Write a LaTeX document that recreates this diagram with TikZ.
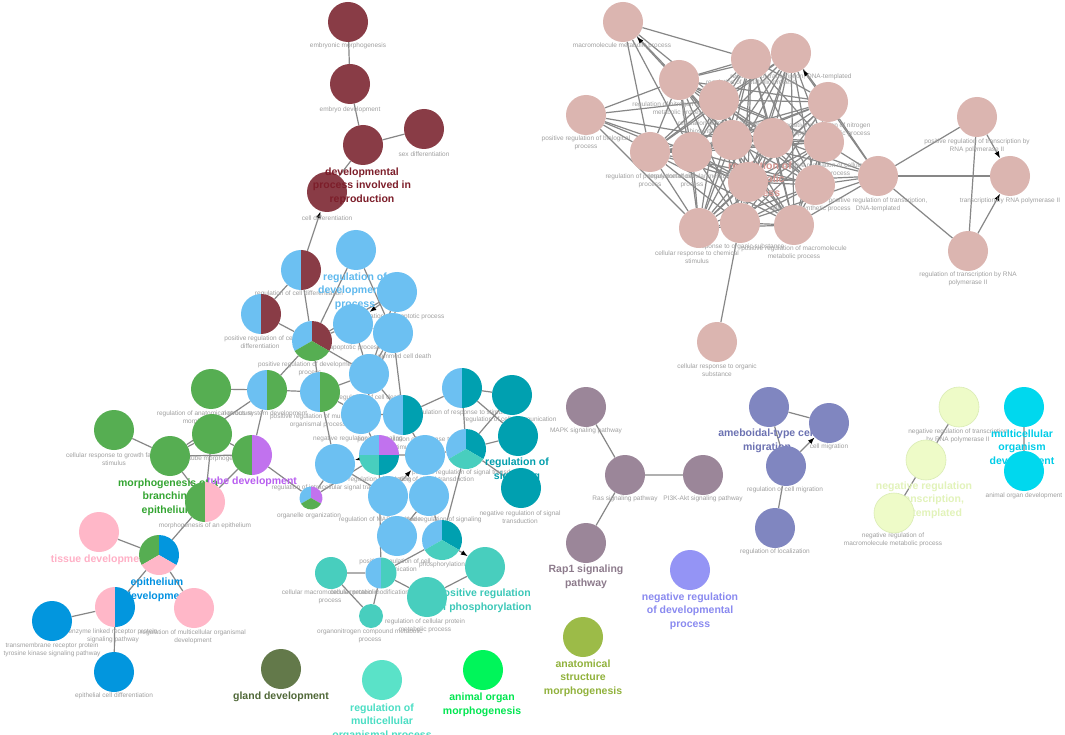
\documentclass[tikz,border=0pt]{standalone}
\usepackage{fontspec}
\setmainfont{Liberation Sans}
\usetikzlibrary{arrows.meta}
\pgfdeclarelayer{bg}\pgfdeclarelayer{lbl}\pgfdeclarelayer{top}
\pgfsetlayers{bg,lbl,main,top}
\definecolor{cmaroon}{RGB}{137,60,70}
\definecolor{cblue}{RGB}{108,192,242}
\definecolor{cgreen}{RGB}{86,174,82}
\definecolor{cpurple}{RGB}{193,114,238}
\definecolor{cteal}{RGB}{0,160,176}
\definecolor{cltteal}{RGB}{72,206,190}
\definecolor{cpink}{RGB}{255,183,200}
\definecolor{cepi}{RGB}{2,150,222}
\definecolor{cmauve}{RGB}{155,134,153}
\definecolor{cslate}{RGB}{128,134,192}
\definecolor{cperi}{RGB}{148,148,245}
\definecolor{colive}{RGB}{156,187,72}
\definecolor{cgland}{RGB}{99,121,74}
\definecolor{caqua}{RGB}{90,226,200}
\definecolor{cbright}{RGB}{0,245,90}
\definecolor{cyell}{RGB}{238,251,200}
\definecolor{cyellb}{RGB}{218,236,180}
\definecolor{ccyan}{RGB}{0,216,238}
\definecolor{crose}{RGB}{219,181,176}
\definecolor{edgegray}{RGB}{135,135,135}
\definecolor{lblgray}{RGB}{160,160,160}
\definecolor{lmaroon}{RGB}{125,30,42}
\definecolor{lblue}{RGB}{95,185,238}
\definecolor{lgreen}{RGB}{52,165,50}
\definecolor{lpurple}{RGB}{185,95,240}
\definecolor{lpink}{RGB}{255,176,198}
\definecolor{lepi}{RGB}{0,145,225}
\definecolor{lteal}{RGB}{0,158,172}
\definecolor{llteal}{RGB}{60,200,184}
\definecolor{lgland}{RGB}{80,104,56}
\definecolor{laqua}{RGB}{75,222,196}
\definecolor{lbright}{RGB}{0,230,80}
\definecolor{lolive}{RGB}{145,178,60}
\definecolor{lperi}{RGB}{138,138,240}
\definecolor{lmauve}{RGB}{141,123,140}
\definecolor{lslate}{RGB}{108,114,178}
\definecolor{lyell}{RGB}{226,243,186}
\definecolor{lcyan}{RGB}{0,205,232}
\definecolor{lrose}{RGB}{214,150,145}
\newcommand{\sect}[5]{\fill[#5] (#1.center) -- ++(#3:#2pt) arc[start angle=#3, end angle=#4, radius=#2pt] -- cycle;}
\tikzset{
 nd/.style={circle,inner sep=0pt,minimum size=40pt,draw=none},
 sm/.style={font=\fontsize{6.5}{8}\selectfont, text=lblgray, align=center, inner sep=0pt},
 big/.style={font=\fontsize{10.5}{13.5}\selectfont\bfseries, align=center, inner sep=0pt},
 edge/.style={draw=edgegray, line width=1.2pt},
 arr/.style={edge, -{Latex[length=7pt,width=5pt,color=black]}},
}
\begin{document}
\begin{tikzpicture}[x=1pt,y=-1pt]
\useasboundingbox (0,0) rectangle (1065,735);
% ---------------- nodes ----------------
% maroon
\node[nd,fill=cmaroon] (m1) at (348,22) {};
\node[nd,fill=cmaroon] (m2) at (350,84) {};
\node[nd,fill=cmaroon] (m3) at (363,145) {};
\node[nd,fill=cmaroon] (m4) at (424,129) {};
\node[nd,fill=cmaroon] (m5) at (327,192) {};
% pies blue/maroon
\node[nd] (p1) at (301,270) {};
\sect{p1}{20}{90}{270}{cblue}\sect{p1}{20}{-90}{90}{cmaroon}
\node[nd] (p2) at (261,314) {};
\sect{p2}{20}{90}{270}{cblue}\sect{p2}{20}{-90}{90}{cmaroon}
\node[nd] (p3) at (312,341) {};
\sect{p3}{20}{90}{210}{cblue}\sect{p3}{20}{-30}{90}{cmaroon}\sect{p3}{20}{210}{330}{cgreen}
% blue
\node[nd,fill=cblue] (b1) at (356,250) {};
\node[nd,fill=cblue] (b2) at (397,292) {};
\node[nd,fill=cblue] (b3) at (353,324) {};
\node[nd,fill=cblue] (b4) at (393,333) {};
\node[nd,fill=cblue] (b5) at (369,374) {};
\node[nd] (b6) at (320,392) {};
\sect{b6}{20}{90}{270}{cblue}\sect{b6}{20}{-90}{90}{cgreen}
\node[nd,fill=cblue] (b8) at (361,414) {};
\node[nd] (bt1) at (403,415) {};
\sect{bt1}{20}{90}{270}{cblue}\sect{bt1}{20}{-90}{90}{cteal}
\node[nd] (bt2) at (462,388) {};
\sect{bt2}{20}{90}{270}{cblue}\sect{bt2}{20}{-90}{90}{cteal}
\node[nd,fill=cblue] (b9) at (335,464) {};
\node[nd] (mp) at (379,455) {};
\sect{mp}{20}{90}{180}{cblue}\sect{mp}{20}{0}{90}{cpurple}\sect{mp}{20}{180}{270}{cltteal}\sect{mp}{20}{270}{360}{cteal}
\node[nd,fill=cblue] (b10) at (425,455) {};
\node[nd] (tp1) at (466,449) {};
\sect{tp1}{20}{90}{210}{cblue}\sect{tp1}{20}{-30}{90}{cteal}\sect{tp1}{20}{210}{330}{cltteal}
\node[nd,fill=cblue] (b11) at (388,496) {};
\node[nd,fill=cblue] (b12) at (429,496) {};
\node[nd,fill=cblue] (b13) at (397,536) {};
\node[nd] (tp2) at (442,540) {};
\sect{tp2}{20}{90}{210}{cblue}\sect{tp2}{20}{-30}{90}{cteal}\sect{tp2}{20}{210}{330}{cltteal}
\node[nd,minimum size=23pt] (sp) at (311,498) {};
\sect{sp}{11.5}{90}{210}{cblue}\sect{sp}{11.5}{-30}{90}{cpurple}\sect{sp}{11.5}{210}{330}{cgreen}
% green
\node[nd,fill=cgreen] (g1) at (211,389) {};
\node[nd] (gp1) at (267,390) {};
\sect{gp1}{20}{90}{270}{cblue}\sect{gp1}{20}{-90}{90}{cgreen}
\node[nd,fill=cgreen] (g2) at (114,430) {};
\node[nd,fill=cgreen] (g3) at (212,434) {};
\node[nd,fill=cgreen] (g4) at (170,456) {};
\node[nd] (gv1) at (252,455) {};
\sect{gv1}{20}{90}{270}{cgreen}\sect{gv1}{20}{-90}{90}{cpurple}
\node[nd] (gk1) at (205,502) {};
\sect{gk1}{20}{90}{270}{cgreen}\sect{gk1}{20}{-90}{90}{cpink}
% pink / epithelium
\node[nd,fill=cpink] (pk1) at (99,532) {};
\node[nd] (ep) at (159,555) {};
\sect{ep}{20}{90}{210}{cgreen}\sect{ep}{20}{-30}{90}{cepi}\sect{ep}{20}{210}{330}{cpink}
\node[nd] (pb) at (115,607) {};
\sect{pb}{20}{90}{270}{cpink}\sect{pb}{20}{-90}{90}{cepi}
\node[nd,fill=cpink] (pk2) at (194,608) {};
\node[nd,fill=cepi] (bl1) at (52,621) {};
\node[nd,fill=cepi] (bl2) at (114,672) {};
% lower teal
\node[nd,fill=cltteal,minimum size=32pt] (lt1) at (331,573) {};
\node[nd,minimum size=31pt] (lp1) at (381,573) {};
\sect{lp1}{15.5}{90}{270}{cblue}\sect{lp1}{15.5}{-90}{90}{cltteal}
\node[nd,fill=cltteal] (lt2) at (427,597) {};
\node[nd,fill=cltteal] (lt3) at (485,567) {};
\node[nd,fill=cltteal,minimum size=24pt] (lt4) at (371,616) {};
% dark teal
\node[nd,fill=cteal] (t1) at (512,395) {};
\node[nd,fill=cteal] (t2) at (518,436) {};
\node[nd,fill=cteal] (t3) at (521,488) {};
% singletons
\node[nd,fill=cgland] (gl) at (281,669) {};
\node[nd,fill=caqua] (rm) at (382,680) {};
\node[nd,fill=cbright] (ao) at (483,670) {};
\node[nd,fill=colive] (as) at (583,637) {};
\node[nd,fill=cperi] (nd1) at (690,570) {};
% mapk
\node[nd,fill=cmauve] (k1) at (586,407) {};
\node[nd,fill=cmauve] (k2) at (625,475) {};
\node[nd,fill=cmauve] (k3) at (703,475) {};
\node[nd,fill=cmauve] (k4) at (586,543) {};
% ameboidal
\node[nd,fill=cslate] (a1) at (769,407) {};
\node[nd,fill=cslate] (a2) at (829,423) {};
\node[nd,fill=cslate] (a3) at (786,466) {};
\node[nd,fill=cslate] (a4) at (775,528) {};
% yellow
\node[nd,fill=cyell,draw=cyellb,line width=0.6pt] (yl1) at (959,407) {};
\node[nd,fill=cyell,draw=cyellb,line width=0.6pt] (yl2) at (926,460) {};
\node[nd,fill=cyell,draw=cyellb,line width=0.6pt] (yl3) at (894,513) {};
% cyan
\node[nd,fill=ccyan] (c1) at (1024,407) {};
\node[nd,fill=ccyan] (c2) at (1024,471) {};
% rose
\node[nd,fill=crose] (r1) at (623,22) {};
\node[nd,fill=crose] (r2) at (751,59) {};
\node[nd,fill=crose] (r3) at (791,53) {};
\node[nd,fill=crose] (r4) at (679,80) {};
\node[nd,fill=crose] (r5) at (719,100) {};
\node[nd,fill=crose] (r6) at (586,115) {};
\node[nd,fill=crose] (r7) at (650,152) {};
\node[nd,fill=crose] (r8) at (692,152) {};
\node[nd,fill=crose] (r9) at (732,140) {};
\node[nd,fill=crose] (r10) at (773,138) {};
\node[nd,fill=crose] (r11) at (748,182) {};
\node[nd,fill=crose] (r12) at (699,228) {};
\node[nd,fill=crose] (r13) at (740,223) {};
\node[nd,fill=crose] (r14) at (794,225) {};
\node[nd,fill=crose] (r15) at (828,102) {};
\node[nd,fill=crose] (r17) at (824,142) {};
\node[nd,fill=crose] (r18) at (815,185) {};
\node[nd,fill=crose] (r19) at (878,176) {};
\node[nd,fill=crose] (r20) at (977,117) {};
\node[nd,fill=crose] (r21) at (1010,176) {};
\node[nd,fill=crose] (r22) at (968,251) {};
\node[nd,fill=crose] (r23) at (717,342) {};
% ---------------- edges ----------------
\begin{pgfonlayer}{bg}
\fill[white] (0,0) rectangle (1065,735);
\draw[edge] (m1)--(m2) (m2)--(m3) (m3)--(m4) (m3)--(m5);
\draw[arr] (p1)--(m5);
\draw[edge] (p1)--(p2) (p1)--(p3) (p2)--(p3) (p3)--(b1) (p3)--(b3) (p3)--(b2) (p3)--(gp1) (p3)--(b6) (p3)--(b5);
\draw[arr] (b2)--(b3);
\draw[edge] (b2)--(b5) (b3)--(b4) (b4)--(b5) (b3)--(b5) (b2)--(b4) (b4)--(b8) (b5)--(bt1) (b5)--(b6) (b6)--(b8) (b8)--(bt1) (b8)--(mp) (bt1)--(bt2) (bt1)--(b10) (mp)--(b10) (b10)--(tp1) (b12)--(tp2) (b12)--(b13) (tp1)--(tp2) (b9)--(sp) (sp)--(mp) (b9)--(b11) (b6)--(gp1) (b6)--(b9) (bt2)--(t1) (bt2)--(t2) (tp1)--(t1) (tp1)--(t2) (tp1)--(t3) (bt2)--(tp1) (b4)--(bt1) (mp)--(lp1) (b1)--(b4);
\draw[arr] (mp)--(b9);
\draw[arr] (b11)--(b10);
\draw[edge] (lp1)--(lt1) (lt1)--(lt4) (lp1)--(lt4) (lp1)--(lt2) (lp1)--(tp2) (lt2)--(lt3);
\draw[arr] (tp2)--(lt3);
\draw[edge] (g1)--(gp1) (gp1)--(g4) (g2)--(g4) (g4)--(g3) (g4)--(gv1) (g3)--(gv1) (gv1)--(gp1) (g3)--(gk1) (g4)--(gk1) (gv1)--(gk1) (gv1)--(sp) (gk1)--(ep);
\draw[edge] (pk1)--(ep) (ep)--(pb) (ep)--(pk2) (pb)--(bl1) (pb)--(bl2);
\draw[edge] (k1)--(k2) (k2)--(k3) (k2)--(k4);
\draw[edge] (a1)--(a2) (a1)--(a3) (a3)--(a4);
\draw[arr] (a3)--(a2);
\draw[edge] (yl1)--(yl2) (yl2)--(yl3) (c1)--(c2);
\foreach \a [count=\i] in {r2,r3,r4,r5,r7,r8,r9,r10,r11,r12,r13,r14,r15,r17,r18}{
  \foreach \b [count=\j] in {r2,r3,r4,r5,r7,r8,r9,r10,r11,r12,r13,r14,r15,r17,r18}{
    \ifnum\j>\i \draw[edge] (\a)--(\b); \fi
  }
}
\foreach \b in {r2,r4,r5,r7,r8}{\draw[edge] (r1)--(\b);}
\draw[arr] (r9)--(r1);
\foreach \b in {r4,r5,r7,r8,r9,r11,r12}{\draw[edge] (r6)--(\b);}
\foreach \b in {r15,r17,r18,r14,r10,r11,r13,r9,r20,r21,r22}{\draw[edge] (r19)--(\b);}
\draw[arr] (r19)--(r3);
\draw[arr] (r20)--(r21);
\draw[arr] (r22)--(r21);
\draw[edge] (r20)--(r22) (r13)--(r23);
\end{pgfonlayer}
% ---------------- labels ----------------
\begin{pgfonlayer}{lbl}
\node[sm] (lm1) at (348,46) {embryonic morphogenesis};
\node[sm] (lm2) at (350,110) {embryo development};
\node[sm] (lm4) at (424,154) {sex differentiation};
\node[sm] (lm5) at (327,218) {cell differentiation};
\node[sm] (lp1x) at (299,294) {regulation of cell differentiation};
\node[sm] (lp2x) at (260,342) {positive regulation of cell\\differentiation};
\node[sm] (lp3x) at (310,369) {positive regulation of developmental\\process};
\node[sm] (lb2) at (400,317) {regulation of apoptotic process};
\node[sm] (lb3) at (355,348) {apoptotic process};
\node[sm] (lb4) at (398,357) {programmed cell death};
\node[sm] (lb5) at (370,398) {regulation of cell death};
\node[sm] (lb6) at (318,421) {positive regulation of multicellular\\organismal process};
\node[sm] (lb8) at (358,439) {negative regulation of signaling};
\node[sm] (lbt1) at (405,443) {positive regulation of response to\\stimulus};
\node[sm] (lbt2) at (462,413) {regulation of response to stimulus};
\node[sm] (lb9) at (335,488) {regulation of intracellular signal transduction};
\node[sm] (lmp) at (380,480) {regulation of signaling};
\node[sm] (lb10) at (428,480) {regulation of signal transduction};
\node[sm] (ltp1) at (470,473) {positive regulation of signal transduction};
\node[sm] (lb11) at (380,520) {regulation of MAPK cascade};
\node[sm] (lb12) at (438,520) {positive regulation of signaling};
\node[sm] (lb13) at (395,565) {positive regulation of cell\\communication};
\node[sm] (ltp2) at (442,565) {phosphorylation};
\node[sm] (lsp) at (309,516) {organelle organization};
\node[sm] (lg1) at (205,418) {regulation of anatomical structure\\morphogenesis};
\node[sm] (lgp1) at (265,414) {nervous system development};
\node[sm] (lg2) at (114,459) {cellular response to growth factor\\stimulus};
\node[sm] (lg3) at (205,459) {epithelial tube morphogenesis};
\node[sm] (lgk1) at (205,526) {morphogenesis of an epithelium};
\node[sm] (lpb) at (113,636) {enzyme linked receptor protein\\signaling pathway};
\node[sm] (lpk2) at (193,637) {regulation of multicellular organismal\\development};
\node[sm] (lbl1) at (52,650) {transmembrane receptor protein\\tyrosine kinase signaling pathway};
\node[sm] (lbl2) at (114,696) {epithelial cell differentiation};
\node[sm] (llt1) at (330,597) {cellular macromolecule metabolic\\process};
\node[sm] (llp1) at (382,593) {cellular protein modification process};
\node[sm] (llt2) at (425,626) {regulation of cellular protein\\metabolic process};
\node[sm] (llt4) at (370,636) {organonitrogen compound metabolic\\process};
\node[sm] (lt1x) at (510,420) {regulation of cell communication};
\node[sm] (lt3x) at (520,517) {negative regulation of signal\\transduction};
\node[sm] (lk1) at (586,431) {MAPK signaling pathway};
\node[sm] (lk2) at (625,499) {Ras signaling pathway};
\node[sm] (lk3) at (703,499) {PI3K-Akt signaling pathway};
\node[sm] (la2) at (829,447) {cell migration};
\node[sm] (la3) at (785,490) {regulation of cell migration};
\node[sm] (la4) at (775,552) {regulation of localization};
\node[sm] (lyl1) at (958,436) {negative regulation of transcription\\by RNA polymerase II};
\node[sm] (lyl3) at (893,540) {negative regulation of\\macromolecule metabolic process};
\node[sm] (lc2) at (1024,496) {animal organ development};
\node[sm] (lr1) at (622,46) {macromolecule metabolic process};
\node[sm] (lr2) at (751,83) {regulation of metabolic process};
\node[sm] (lr3) at (791,77) {regulation of transcription, DNA-templated};
\node[sm] (lr4) at (679,109) {regulation of nitrogen compound\\metabolic process};
\node[sm] (lr5) at (719,128) {regulation of macromolecule\\biosynthetic process};
\node[sm] (lr6) at (586,143) {positive regulation of biological\\process};
\node[sm] (lr7) at (650,181) {regulation of primary metabolic\\process};
\node[sm] (lr8) at (692,181) {regulation of cellular metabolic\\process};
\node[sm] (lr12) at (697,257) {cellular response to chemical\\stimulus};
\node[sm] (lr13) at (740,247) {response to organic substance};
\node[sm] (lr14) at (794,253) {positive regulation of macromolecule\\metabolic process};
\node[sm] (lr15) at (828,130) {positive regulation of nitrogen\\compound metabolic process};
\node[sm] (lr17) at (824,170) {positive regulation of cellular\\metabolic process};
\node[sm] (lr18) at (810,209) {cellular biosynthetic process};
\node[sm] (lr19) at (878,205) {positive regulation of transcription,\\DNA-templated};
\node[sm] (lr20) at (977,146) {positive regulation of transcription by\\RNA polymerase II};
\node[sm] (lr21) at (1010,201) {transcription by RNA polymerase II};
\node[sm] (lr22) at (968,279) {regulation of transcription by RNA\\polymerase II};
\node[sm] (lr23) at (717,370) {cellular response to organic\\substance};
% big labels
\node[big,text=lrose] (Lrose) at (760,180) {regulation of\\metabolic\\process};
\node[big,text=lblue] (Lb1) at (355,291) {regulation of\\developmental\\process};
\node[big,text=lgreen] (Lg4) at (168,497) {morphogenesis of a\\branching\\epithelium};
\node[big,text=lpurple] (Lgv1) at (252,482) {tube development};
\node[big,text=lpink] (Lpk1) at (100,560) {tissue development};
\node[big,text=lepi] (Lep) at (157,590) {epithelium\\development};
\node[big,text=lteal] (Lt2) at (517,470) {regulation of\\signaling};
\node[big,text=llteal] (Llt3) at (484,601) {positive regulation\\of phosphorylation};
\node[big,text=lgland] (Lgl) at (281,697) {gland development};
\node[big,text=laqua] (Lrm) at (382,722) {regulation of\\multicellular\\organismal process};
\node[big,text=lbright] (Lao) at (482,705) {animal organ\\morphogenesis};
\node[big,text=lolive] (Las) at (583,678) {anatomical\\structure\\morphogenesis};
\node[big,text=lperi] (Lnd) at (690,611) {negative regulation\\of developmental\\process};
\node[big,text=lmauve] (Lk4) at (586,577) {Rap1 signaling\\pathway};
\node[big,text=lslate] (La1) at (767,441) {ameboidal-type cell\\migration};
\node[big,text=lyell] (Lyl2) at (924,500) {negative regulation\\of transcription,\\DNA-templated};
\node[big,text=lcyan] (Lc1) at (1022,448) {multicellular\\organism\\development};
\end{pgfonlayer}
\begin{pgfonlayer}{top}
\node[big,text=lmaroon] (Lm3) at (362,186) {developmental\\process involved in\\reproduction};
\end{pgfonlayer}
\end{tikzpicture}
\end{document}
